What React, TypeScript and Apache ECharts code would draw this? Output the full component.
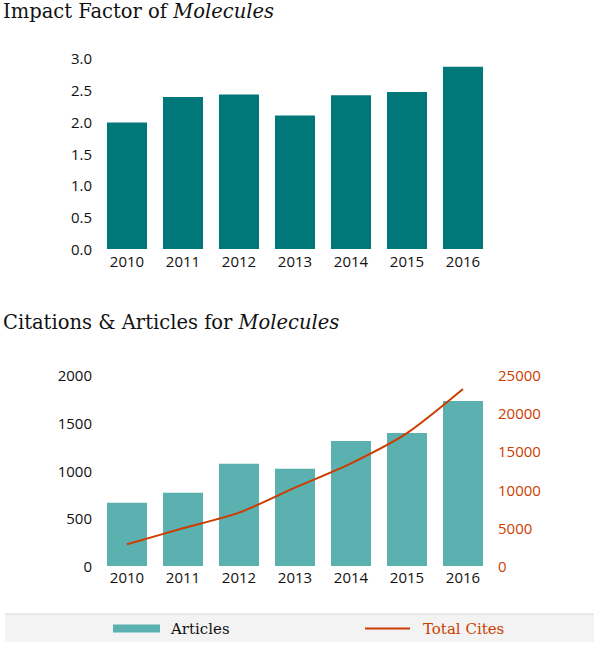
import React, { useEffect, useRef } from "react";
import * as echarts from "echarts";

const years = ["2010", "2011", "2012", "2013", "2014", "2015", "2016"];
const impactFactor = [1.988, 2.386, 2.428, 2.095, 2.416, 2.465, 2.861];
const articles = [663, 767, 1070, 1018, 1309, 1393, 1728];
const totalCites = [2840, 4940, 6980, 10250, 13440, 17400, 23170];

const SERIF = "'DejaVu Serif', serif";
const SANS = "'Open Sans', sans-serif";
const TEAL_DARK = "#00787A";
const TEAL_LIGHT = "#5AB1B0";
const ORANGE = "#CC3D00";

export default function App() {
  const ref = useRef<HTMLDivElement>(null);
  useEffect(() => {
    if (!ref.current) return;
    const chart = echarts.init(ref.current, null, { renderer: "svg" });
    const axisLabel = { fontFamily: SANS, fontSize: 15, color: "#111" };
    const titleRich = {
      a: { fontFamily: SERIF, fontSize: 19.5, color: "#111", fontWeight: "normal" },
      b: { fontFamily: SERIF, fontSize: 19.5, color: "#111", fontWeight: "normal", fontStyle: "italic" },
    };
    chart.setOption({
      animation: false,
      backgroundColor: "#fff",
      title: [
        {
          left: 3,
          top: 1,
          padding: 0,
          text: "{a|Impact Factor of }{b|Molecules}",
          textStyle: { fontWeight: "normal", rich: titleRich },
        },
        {
          left: 3,
          top: 312,
          padding: 0,
          text: "{a|Citations & Articles for }{b|Molecules}",
          textStyle: { fontWeight: "normal", rich: titleRich },
        },
      ],
      grid: [
        { left: 99, width: 392, top: 58, height: 191 },
        { left: 99, width: 392, top: 375, height: 191 },
      ],
      xAxis: [
        {
          type: "category",
          gridIndex: 0,
          data: years,
          axisLine: { show: false },
          axisTick: { show: false },
          axisLabel: { ...axisLabel, margin: 4 },
        },
        {
          type: "category",
          gridIndex: 1,
          data: years,
          axisLine: { show: false },
          axisTick: { show: false },
          axisLabel: { ...axisLabel, margin: 3 },
        },
      ],
      yAxis: [
        {
          type: "value",
          gridIndex: 0,
          min: 0,
          max: 3,
          interval: 0.5,
          splitLine: { show: false },
          axisLine: { show: false },
          axisTick: { show: false },
          axisLabel: { ...axisLabel, margin: 7, formatter: (v: number) => v.toFixed(1) },
        },
        {
          type: "value",
          gridIndex: 1,
          min: 0,
          max: 2000,
          interval: 500,
          splitLine: { show: false },
          axisLine: { show: false },
          axisTick: { show: false },
          axisLabel: { ...axisLabel, margin: 7, formatter: (v: number) => String(v) },
        },
        {
          type: "value",
          gridIndex: 1,
          position: "right",
          min: 0,
          max: 25000,
          interval: 5000,
          splitLine: { show: false },
          axisLine: { show: false },
          axisTick: { show: false },
          axisLabel: { ...axisLabel, color: ORANGE, margin: 7, formatter: (v: number) => String(v) },
        },
      ],
      legend: [
        {
          data: [{ name: "Articles", icon: "rect" }],
          left: 108,
          top: 616,
          itemWidth: 47,
          itemHeight: 8,
          selectedMode: false,
          textStyle: { fontFamily: SERIF, fontSize: 15, color: "#111", padding: [0, 0, 0, 6] },
        },
        {
          data: [{ name: "Total Cites", icon: "rect" }],
          left: 360,
          top: 616,
          itemWidth: 45,
          itemHeight: 2,
          selectedMode: false,
          textStyle: { fontFamily: SERIF, fontSize: 15, color: ORANGE, padding: [0, 0, 0, 8] },
        },
      ],
      graphic: [
        {
          type: "rect",
          left: 5,
          top: 614,
          shape: { width: 589, height: 28 },
          style: { fill: "#f3f3f3" },
          z: -10,
        },
        {
          type: "line",
          shape: { x1: 5, y1: 614, x2: 594, y2: 614 },
          style: { stroke: "#d8d8d8", lineWidth: 1 },
          z: -9,
        },
      ],
      series: [
        {
          name: "Impact Factor",
          type: "bar",
          xAxisIndex: 0,
          yAxisIndex: 0,
          data: impactFactor,
          barWidth: 40,
          itemStyle: { color: TEAL_DARK },
        },
        {
          name: "Articles",
          type: "bar",
          xAxisIndex: 1,
          yAxisIndex: 1,
          data: articles,
          barWidth: 40,
          itemStyle: { color: TEAL_LIGHT },
        },
        {
          name: "Total Cites",
          type: "line",
          xAxisIndex: 1,
          yAxisIndex: 2,
          data: totalCites,
          smooth: 0.25,
          showSymbol: false,
          symbol: "none",
          lineStyle: { color: ORANGE, width: 2 },
          itemStyle: { color: ORANGE },
        },
      ],
    });
    return () => chart.dispose();
  }, []);
  return (
    <div
      ref={ref}
      style={{ position: "fixed", left: 0, top: 0, width: 600, height: 648 }}
    />
  );
}
